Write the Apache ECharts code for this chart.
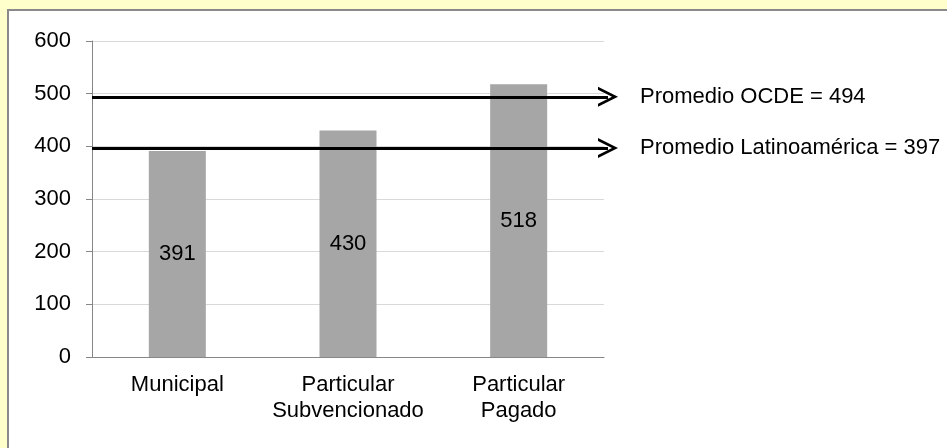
<!DOCTYPE html>
<html>
<head>
<meta charset="utf-8">
<script src="https://cdn.jsdelivr.net/npm/echarts@6/dist/echarts.min.js"></script>
<style>
  html, body { margin: 0; padding: 0; background: #FFFFCC; }
  #panel { position: absolute; left: 7px; top: 9px; right: 0; bottom: 0; background: #fff; border-left: 2px solid #8a8a8a; border-top: 2px solid #8a8a8a; }
  #chart { position: absolute; left: 0; top: 0; width: 947px; height: 448px; }
</style>
</head>
<body>
<div id="panel"></div>
<div id="chart"></div>
<script>
const categories = ['Municipal', 'Particular\nSubvencionado', 'Particular\nPagado']
const scores = [391, 430, 518]
const refNames = ['Promedio OCDE', 'Promedio Latinoamérica']
const refValues = [494, 397]
const yTicks = { min: 0, max: 600, interval: 100 }

const font = 'Liberation Sans, Arial, sans-serif'
const axisGray = '#868686'
// chevron (pointing up before rotation)
const chevron = 'path://M0,20 L10,0 L20,20 L17,20 L10,6 L3,20 Z'

const chart = echarts.init(document.getElementById('chart'))
chart.setOption({
  animation: false,
  backgroundColor: 'transparent',
  textStyle: { fontFamily: font },
  grid: [
    { left: 92, right: 343, top: 41, bottom: 91 },
    { left: 92, right: 339, top: 41, bottom: 91 }
  ],
  xAxis: [
    {
      type: 'category',
      gridIndex: 0,
      data: categories,
      axisLine: { lineStyle: { color: axisGray } },
      axisTick: { length: 6, lineStyle: { color: axisGray } },
      axisLabel: { interval: 0, color: '#000', fontSize: 22, lineHeight: 26, margin: 15, fontFamily: font }
    },
    { type: 'value', gridIndex: 1, min: 0, max: 1, show: false }
  ],
  yAxis: [
    {
      type: 'value',
      gridIndex: 0,
      min: yTicks.min, max: yTicks.max, interval: yTicks.interval,
      axisLine: { show: true, lineStyle: { color: axisGray } },
      axisTick: { show: true, length: 6, lineStyle: { color: axisGray } },
      splitLine: { lineStyle: { color: '#d9d9d9' } },
      axisLabel: { color: '#000', fontSize: 22, margin: 21, fontFamily: font }
    },
    { type: 'value', gridIndex: 1, min: yTicks.min, max: yTicks.max, show: false }
  ],
  series: [
    {
      type: 'bar',
      data: scores,
      barWidth: 57,
      itemStyle: { color: '#a6a6a6' },
      label: { show: true, position: 'inside', color: '#000', fontSize: 22, fontFamily: font }
    },
    {
      type: 'lines',
      coordinateSystem: 'cartesian2d',
      xAxisIndex: 1,
      yAxisIndex: 1,
      z: 5,
      clip: false,
      silent: true,
      symbol: ['none', chevron],
      symbolSize: 20,
      lineStyle: { color: '#000', width: 3, opacity: 1 },
      label: {
        show: true,
        position: 'end',
        distance: 32,
        color: '#000',
        fontSize: 22,
        fontFamily: font,
        formatter: p => refNames[p.dataIndex] + ' = ' + refValues[p.dataIndex]
      },
      data: refValues.map((v, i) => ({ name: refNames[i], coords: [[0, v], [1, v]] }))
    }
  ]
})
</script>
</body>
</html>
